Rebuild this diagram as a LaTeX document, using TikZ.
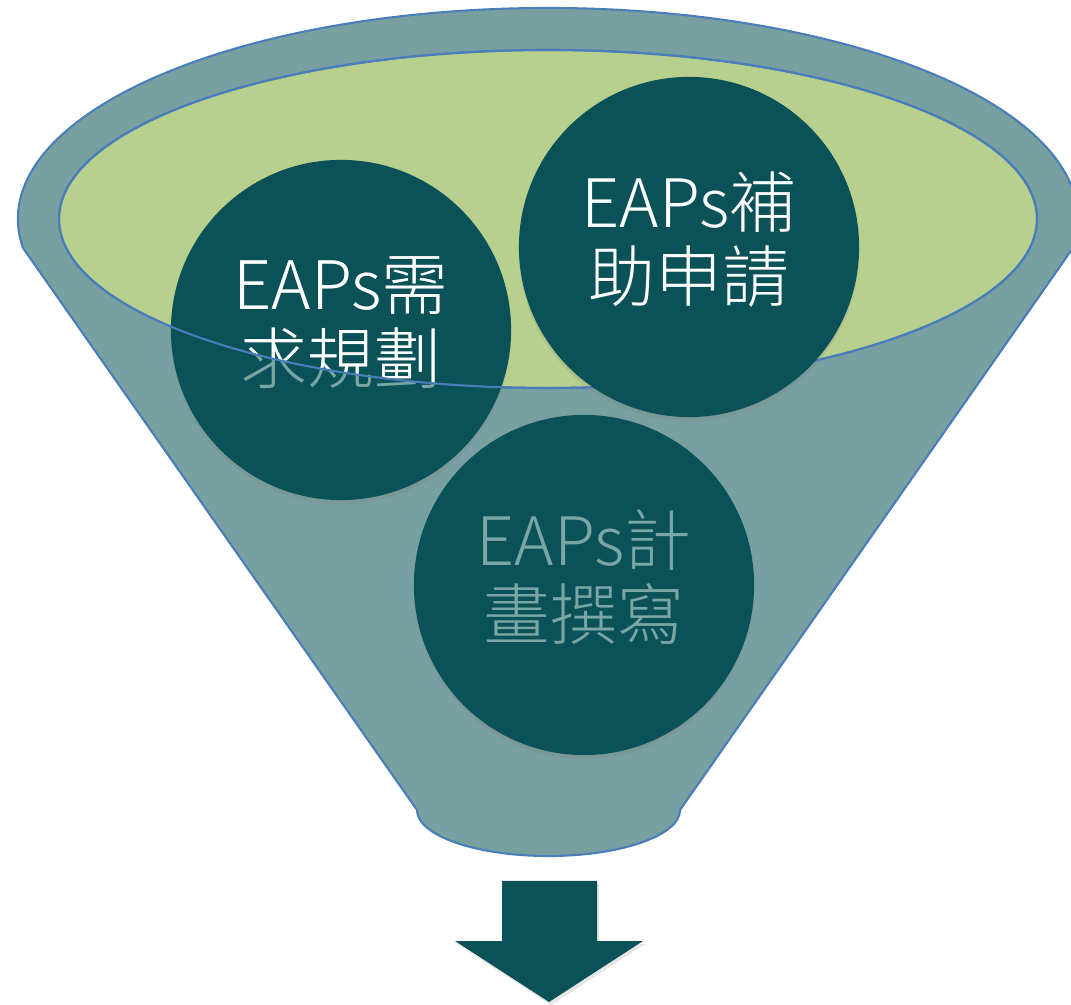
\documentclass[tikz,border=0pt]{standalone}
\usepackage{fontspec}
\newfontfamily\cjk{Noto Sans CJK TC Light}
\usetikzlibrary{shadows}
\definecolor{funnelc}{HTML}{78A0A0}
\definecolor{greenc}{HTML}{B8D08D}
\definecolor{circc}{HTML}{0A5257}
\definecolor{linec}{HTML}{4A7EBB}
\definecolor{greytxt}{HTML}{7AA6A5}
\tikzset{
  outl/.style={draw=linec, line width=0.6pt},
  bub/.style={circle, fill=circc, minimum size=3.4cm, inner sep=0pt,
     drop shadow={opacity=0.2, shadow xshift=0pt, shadow yshift=-1.2pt}},
  txt/.style={font=\cjk\fontsize{19}{21}\selectfont, align=center, text=white, inner sep=0pt},
  greytext/.style={txt, text=greytxt},
  arrowshape/.style={fill=circc, drop shadow={opacity=0.2, shadow xshift=0.6pt, shadow yshift=-0.9pt}}
}
\begin{document}
\begin{tikzpicture}[x=0.01cm, y=0.01cm]
\useasboundingbox (0,0) rectangle (1071,1004);
% funnel body
\path[fill=funnelc, outl] (417,194) -- (23,756)
  arc[start angle=187.9, end angle=-7.9, x radius=530, y radius=211]
  -- (680,194)
  arc[start angle=0, end angle=-180, x radius=131.5, y radius=46] -- cycle;
% inner rim
\path[fill=greenc, outl] (548,785) ellipse[x radius=489, y radius=169];
% circles
\node[bub] (c1) at (341,674) {};
\node[bub] (c3) at (584,419) {};
% left text: grey part below rim, white part inside rim
\node[greytext] (t1g) at ([yshift=2.2pt]c1) {EAPs需\\求規劃};
\begin{scope}
  \clip (548,785) ellipse[x radius=489, y radius=169];
  \node[txt] (t1) at ([yshift=2.2pt]c1) {EAPs需\\求規劃};
\end{scope}
% rim outline over the left circle
\draw[outl] (548,785) ellipse[x radius=489, y radius=169];
\node[bub] (c2) at (689,757) {};
\node[txt] (t2) at ([yshift=2.2pt]c2) {EAPs補\\助申請};
\node[greytext] (t3) at ([yshift=2.2pt]c3) {EAPs計\\畫撰寫};
% arrow
\coordinate (a1) at (502,123);
\coordinate (a2) at (597,123);
\coordinate (a3) at (597,63);
\coordinate (a4) at (643,63);
\coordinate (a5) at (549,2);
\coordinate (a6) at (455,63);
\coordinate (a7) at (502,63);
\path[arrowshape] (a1) -- (a2) -- (a3) -- (a4) -- (a5) -- (a6) -- (a7) -- cycle;
\end{tikzpicture}
\end{document}
